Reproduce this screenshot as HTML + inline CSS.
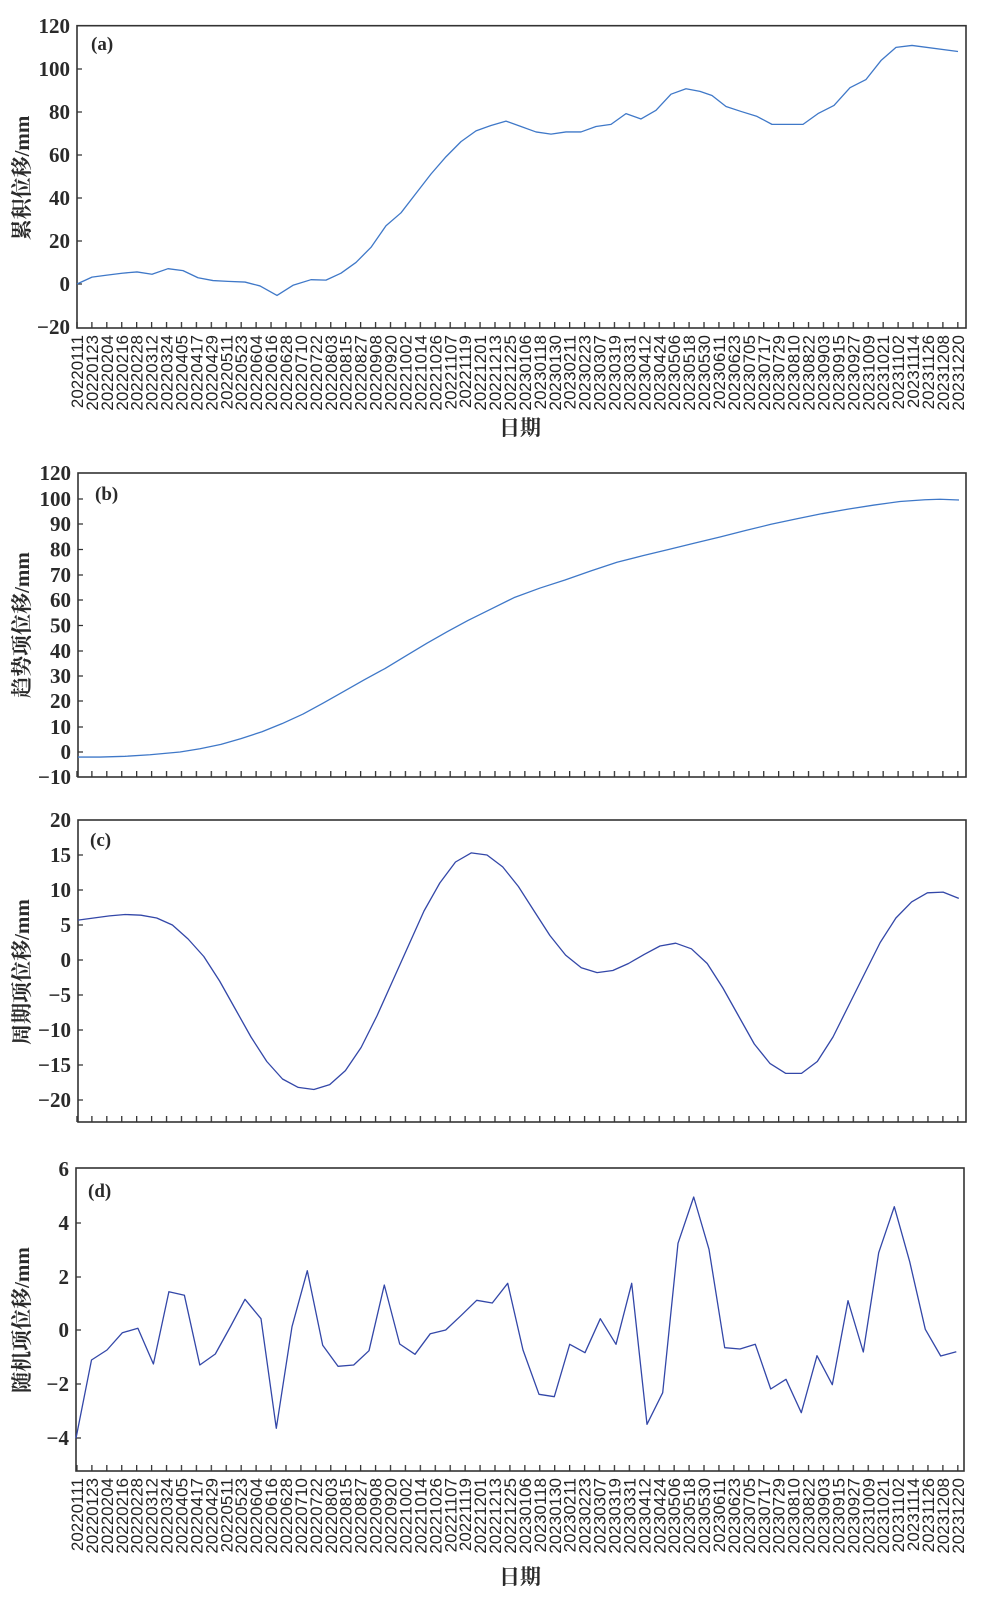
<!DOCTYPE html>
<html><head><meta charset="utf-8">
<style>
html,body{margin:0;padding:0;background:#fff;}
svg{display:block;}
.yt{font-family:"Liberation Serif","Noto Serif CJK SC",serif;font-weight:bold;font-size:21px;fill:#2a2a2a;text-anchor:end;}
.dt{font-family:"Liberation Sans",sans-serif;font-size:17px;fill:#222;text-anchor:end;}
.yl{font-family:"Liberation Serif","Noto Serif CJK SC",serif;font-weight:bold;font-size:21px;fill:#2a2a2a;text-anchor:middle;}
.pl{font-family:"Liberation Serif",serif;font-weight:bold;font-size:19px;fill:#2a2a2a;}
.fr{fill:none;stroke:#333;stroke-width:1.6;}
.la{fill:none;stroke:#3f78c8;stroke-width:1.3;stroke-linejoin:round;}
.lc{fill:none;stroke:#3347a8;stroke-width:1.3;stroke-linejoin:round;}
</style></head><body>
<svg width="996" height="1612" viewBox="0 0 996 1612" xmlns="http://www.w3.org/2000/svg">
<defs>
<pattern id="tk" patternUnits="userSpaceOnUse" x="76.3" y="0" width="14.93" height="1612"><rect x="0" y="0" width="1.3" height="1612" fill="#333"/></pattern>
</defs>
<!-- x ticks -->
<rect x="76" y="322" width="884" height="6" fill="url(#tk)"/>
<rect x="76" y="771" width="884" height="6" fill="url(#tk)"/>
<rect x="76" y="1116" width="884" height="6" fill="url(#tk)"/>
<rect x="76" y="1465" width="884" height="6" fill="url(#tk)"/>

<!-- y ticks -->
<path stroke="#333" stroke-width="1.3" d="M77 69h5M77 112h5M77 155h5M77 198h5M77 241h5M77 284h5
M78 499h5M78 524h5M78 549.5h5M78 575h5M78 600h5M78 625.5h5M78 651h5M78 676h5M78 701h5M78 727h5M78 752h5
M78 855h5M78 890h5M78 925h5M78 960h5M78 995h5M78 1030h5M78 1065h5M78 1100h5
M76 1223h5M76 1277h5M76 1330h5M76 1384h5M76 1438h5"/>

<!-- frames -->
<rect class="fr" x="77" y="25.7" width="889" height="302.3"/>
<rect class="fr" x="78" y="473" width="888" height="304"/>
<rect class="fr" x="78" y="820" width="888" height="302"/>
<rect class="fr" x="76" y="1168" width="888" height="303"/>

<!-- y tick labels -->
<text class="yt" x="70" y="33">120</text><text class="yt" x="70" y="76">100</text><text class="yt" x="70" y="119">80</text><text class="yt" x="70" y="162">60</text><text class="yt" x="70" y="205">40</text><text class="yt" x="70" y="248">20</text><text class="yt" x="70" y="291">0</text><text class="yt" x="70" y="334">−20</text>
<text class="yt" x="71" y="480">120</text><text class="yt" x="71" y="506">100</text><text class="yt" x="71" y="531">90</text><text class="yt" x="71" y="556.5">80</text><text class="yt" x="71" y="582">70</text><text class="yt" x="71" y="607">60</text><text class="yt" x="71" y="632.5">50</text><text class="yt" x="71" y="658">40</text><text class="yt" x="71" y="683">30</text><text class="yt" x="71" y="708">20</text><text class="yt" x="71" y="734">10</text><text class="yt" x="71" y="759">0</text><text class="yt" x="71" y="784">−10</text>
<text class="yt" x="71" y="827">20</text><text class="yt" x="71" y="862">15</text><text class="yt" x="71" y="897">10</text><text class="yt" x="71" y="932">5</text><text class="yt" x="71" y="967">0</text><text class="yt" x="71" y="1002">−5</text><text class="yt" x="71" y="1037">−10</text><text class="yt" x="71" y="1072">−15</text><text class="yt" x="71" y="1107">−20</text>
<text class="yt" x="69" y="1176">6</text><text class="yt" x="69" y="1230">4</text><text class="yt" x="69" y="1284">2</text><text class="yt" x="69" y="1337">0</text><text class="yt" x="69" y="1391">−2</text><text class="yt" x="69" y="1445">−4</text>

<!-- axis titles -->
<text class="yl" transform="translate(29,178) rotate(-90)">累积位移/mm</text>
<text class="yl" transform="translate(29,625) rotate(-90)">趋势项位移/mm</text>
<text class="yl" transform="translate(29,972) rotate(-90)">周期项位移/mm</text>
<text class="yl" transform="translate(29,1320) rotate(-90)">随机项位移/mm</text>
<text class="yl" x="520" y="435">日期</text>
<text class="yl" x="520" y="1584">日期</text>

<!-- panel labels -->
<text class="pl" x="91" y="50">(a)</text>
<text class="pl" x="95" y="500">(b)</text>
<text class="pl" x="90" y="846">(c)</text>
<text class="pl" x="88" y="1197">(d)</text>

<!-- date labels panel a -->
<g class="dt" transform="rotate(-90)">
<text x="-335" y="83">20220111</text><text x="-335" y="97.9">20220123</text><text x="-335" y="112.9">20220204</text><text x="-335" y="127.8">20220216</text><text x="-335" y="142.7">20220228</text><text x="-335" y="157.7">20220312</text><text x="-335" y="172.6">20220324</text><text x="-335" y="187.5">20220405</text><text x="-335" y="202.4">20220417</text><text x="-335" y="217.4">20220429</text><text x="-335" y="232.3">20220511</text><text x="-335" y="247.2">20220523</text><text x="-335" y="262.2">20220604</text><text x="-335" y="277.1">20220616</text><text x="-335" y="292">20220628</text><text x="-335" y="307">20220710</text><text x="-335" y="321.9">20220722</text><text x="-335" y="336.8">20220803</text><text x="-335" y="351.7">20220815</text><text x="-335" y="366.7">20220827</text><text x="-335" y="381.6">20220908</text><text x="-335" y="396.5">20220920</text><text x="-335" y="411.5">20221002</text><text x="-335" y="426.4">20221014</text><text x="-335" y="441.3">20221026</text><text x="-335" y="456.3">20221107</text><text x="-335" y="471.2">20221119</text><text x="-335" y="486.1">20221201</text><text x="-335" y="501">20221213</text><text x="-335" y="516">20221225</text><text x="-335" y="530.9">20230106</text><text x="-335" y="545.8">20230118</text><text x="-335" y="560.8">20230130</text><text x="-335" y="575.7">20230211</text><text x="-335" y="590.6">20230223</text><text x="-335" y="605.6">20230307</text><text x="-335" y="620.5">20230319</text><text x="-335" y="635.4">20230331</text><text x="-335" y="650.3">20230412</text><text x="-335" y="665.3">20230424</text><text x="-335" y="680.2">20230506</text><text x="-335" y="695.1">20230518</text><text x="-335" y="710.1">20230530</text><text x="-335" y="725">20230611</text><text x="-335" y="739.9">20230623</text><text x="-335" y="754.9">20230705</text><text x="-335" y="769.8">20230717</text><text x="-335" y="784.7">20230729</text><text x="-335" y="799.6">20230810</text><text x="-335" y="814.6">20230822</text><text x="-335" y="829.5">20230903</text><text x="-335" y="844.4">20230915</text><text x="-335" y="859.4">20230927</text><text x="-335" y="874.3">20231009</text><text x="-335" y="889.2">20231021</text><text x="-335" y="904.2">20231102</text><text x="-335" y="919.1">20231114</text><text x="-335" y="934">20231126</text><text x="-335" y="948.9">20231208</text><text x="-335" y="963.9">20231220</text>
</g>
<!-- date labels panel d -->
<g class="dt" transform="rotate(-90)">
<text x="-1478" y="83">20220111</text><text x="-1478" y="97.9">20220123</text><text x="-1478" y="112.9">20220204</text><text x="-1478" y="127.8">20220216</text><text x="-1478" y="142.7">20220228</text><text x="-1478" y="157.7">20220312</text><text x="-1478" y="172.6">20220324</text><text x="-1478" y="187.5">20220405</text><text x="-1478" y="202.4">20220417</text><text x="-1478" y="217.4">20220429</text><text x="-1478" y="232.3">20220511</text><text x="-1478" y="247.2">20220523</text><text x="-1478" y="262.2">20220604</text><text x="-1478" y="277.1">20220616</text><text x="-1478" y="292">20220628</text><text x="-1478" y="307">20220710</text><text x="-1478" y="321.9">20220722</text><text x="-1478" y="336.8">20220803</text><text x="-1478" y="351.7">20220815</text><text x="-1478" y="366.7">20220827</text><text x="-1478" y="381.6">20220908</text><text x="-1478" y="396.5">20220920</text><text x="-1478" y="411.5">20221002</text><text x="-1478" y="426.4">20221014</text><text x="-1478" y="441.3">20221026</text><text x="-1478" y="456.3">20221107</text><text x="-1478" y="471.2">20221119</text><text x="-1478" y="486.1">20221201</text><text x="-1478" y="501">20221213</text><text x="-1478" y="516">20221225</text><text x="-1478" y="530.9">20230106</text><text x="-1478" y="545.8">20230118</text><text x="-1478" y="560.8">20230130</text><text x="-1478" y="575.7">20230211</text><text x="-1478" y="590.6">20230223</text><text x="-1478" y="605.6">20230307</text><text x="-1478" y="620.5">20230319</text><text x="-1478" y="635.4">20230331</text><text x="-1478" y="650.3">20230412</text><text x="-1478" y="665.3">20230424</text><text x="-1478" y="680.2">20230506</text><text x="-1478" y="695.1">20230518</text><text x="-1478" y="710.1">20230530</text><text x="-1478" y="725">20230611</text><text x="-1478" y="739.9">20230623</text><text x="-1478" y="754.9">20230705</text><text x="-1478" y="769.8">20230717</text><text x="-1478" y="784.7">20230729</text><text x="-1478" y="799.6">20230810</text><text x="-1478" y="814.6">20230822</text><text x="-1478" y="829.5">20230903</text><text x="-1478" y="844.4">20230915</text><text x="-1478" y="859.4">20230927</text><text x="-1478" y="874.3">20231009</text><text x="-1478" y="889.2">20231021</text><text x="-1478" y="904.2">20231102</text><text x="-1478" y="919.1">20231114</text><text x="-1478" y="934">20231126</text><text x="-1478" y="948.9">20231208</text><text x="-1478" y="963.9">20231220</text>
</g>

<!-- panel a line: y = 284 - 2.157 v -->
<g transform="matrix(1 0 0 -2.157 0 284)">
<polyline class="la" vector-effect="non-scaling-stroke" points="77,0 92,3.2 107,4.1 122,5.0 137,5.6 152,4.5 168,7.1 183,6.2 198,2.9 213,1.6 228,1.2 245,0.9 260,-0.9 277,-5.3 293,-0.6 311,2 326,1.8 341,5 356,10 371,17 386,27 401,33 416,42 431,51 446,59 461,66 476,71 491,73.5 506,75.5 521,73 536,70.5 551,69.5 566,70.5 581,70.5 596,73 611,74 626,79 641,76.5 656,80.5 671,88 686,90.5 700,89.3 712,87.4 726,82.3 741,80 757,77.7 772,74 803,74 818,79 834,82.8 850,91 866,94.8 881,103.6 896,109.7 912,110.6 958,107.8"/>
</g>
<!-- panel b: y = 752 - 2.53 v -->
<g transform="matrix(1 0 0 -2.53 0 752)">
<polyline class="la" vector-effect="non-scaling-stroke" points="78,-2 100,-2 125,-1.7 150,-1.1 180,0 200,1.3 221,3 241,5.3 262,8 282,11.2 303,15 323,19.3 344,24 364,28.5 385,33 406,38 427,43 447,47.5 468,52 491,56.5 514,61 540,64.8 565,68 591,71.6 617,75 643,77.6 668,80 694,82.5 720,85 746,87.6 771,90 797,92.2 822,94.2 848,96 874,97.6 900,99 925,99.7 940,99.9 959,99.6"/>
</g>
<!-- panel c: y = 960 - 7 v -->
<g transform="matrix(1 0 0 -7 0 960)">
<polyline class="lc" vector-effect="non-scaling-stroke" points="78,5.7 93.7,6 109.5,6.3 125.2,6.5 140.9,6.4 156.7,6 172.4,5 188.1,3 203.8,0.5 219.6,-3 235.3,-7 251,-11 266.8,-14.5 282.5,-17 298.2,-18.2 313.9,-18.5 329.7,-17.8 345.4,-15.8 361.1,-12.5 376.9,-8 392.6,-3 408.3,2 424,7 439.8,11 455.5,14 471.2,15.3 487,15 502.7,13.3 518.4,10.5 534.1,7 549.9,3.5 565.6,0.7 581.3,-1.1 597.1,-1.8 612.8,-1.5 628.5,-0.5 644.2,0.8 660,2 675.7,2.4 691.4,1.6 707.2,-0.5 722.9,-4 738.6,-8 754.3,-12 770.1,-14.8 785.8,-16.2 801.5,-16.2 817.3,-14.5 833,-11 848.7,-6.5 864.4,-2 880.2,2.5 895.9,6 911.6,8.3 927.4,9.6 943.1,9.7 958.8,8.8"/>
</g>
<!-- panel d: pixel coords -->
<polyline class="lc" points="76,1438.3 91.5,1360 107,1350 122.4,1332.7 137.9,1328.3 153.4,1364 168.9,1291.7 184.4,1295.3 199.8,1365 215.3,1354 230.8,1326 245,1299.3 261,1318.7 276.3,1428.3 292,1326.7 307.3,1270.7 322.7,1345.3 338,1366.3 353.7,1365 369,1350.7 384.3,1285 399.7,1344 415,1354.3 430.3,1333.7 445.7,1330 461.3,1315.3 476.7,1300.3 492.3,1303 507.7,1283.3 523,1350 539,1394.3 554.3,1396.7 569.7,1344.3 585,1352.7 600.3,1318.7 616,1344.3 631.7,1283.3 647,1424.3 662.7,1392.7 678,1243.3 693.7,1197 709,1249.3 724.7,1347.7 740,1349 755.3,1344.3 770.7,1389 786,1379.3 801.3,1412.7 817,1355.7 832.3,1384.7 848,1300.7 863.3,1352 878.7,1252.7 894.3,1206.7 909.7,1261.7 925.3,1329.3 940.7,1356 956.3,1351.7"/>
</svg>
</body></html>
